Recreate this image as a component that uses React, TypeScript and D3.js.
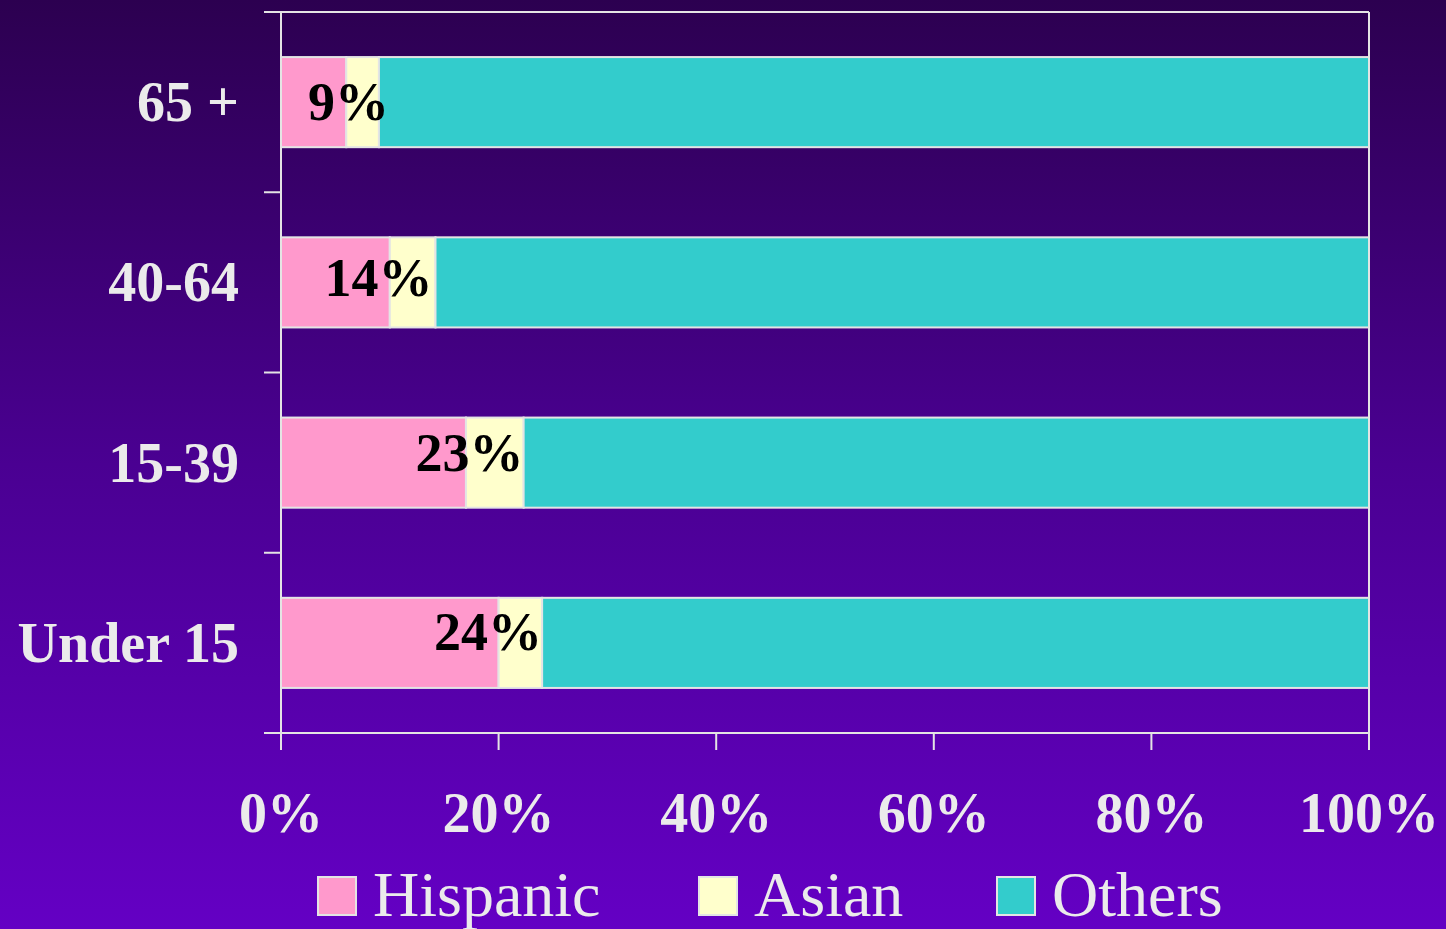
import React from "react";
import * as d3 from "d3";

const categories = ["65 +", "40-64", "15-39", "Under 15"];
const hispanic = [6, 10, 17, 20];
const asian = [3, 4.2, 5.3, 4];
const others = hispanic.map((h, i) => 100 - h - asian[i]);
const totalLabels = ["9%", "14%", "23%", "24%"];
const xTicks = [0, 20, 40, 60, 80, 100];
const seriesNames = ["Hispanic", "Asian", "Others"];
const seriesColors = ["#ff99cc", "#ffffcc", "#33cccc"];

const W = 1446;
const H = 929;
const left = 281;
const right = 1369;
const top = 12;
const bottom = 733;
const lineColor = "#e4e4e4";
// layout nudges for the total labels (pixels)
const labelNudgeX = [10, -3, 0, 0];
const labelNudgeY = [18, 14, 8, 7];

export default function App() {
  const x = d3.scaleLinear().domain([0, 100]).range([left, right]);
  const y = d3
    .scaleBand<string>()
    .domain(categories)
    .range([top, bottom])
    .paddingInner(0.5)
    .paddingOuter(0.25);
  const step = y.step();
  const rows = categories.map((c, i) => ({
    cat: c,
    vals: [hispanic[i], asian[i], others[i]],
  }));
  const stack = rows.map((r) => {
    let acc = 0;
    return r.vals.map((v) => {
      const s = acc;
      acc += v;
      return [s, acc];
    });
  });
  const boundaries = d3.range(categories.length + 1).map((i) => top + i * step);
  const legendX = [318, 699, 997];

  return (
    <svg
      width={W}
      height={H}
      style={{ position: "absolute", left: 0, top: 0, display: "block" }}
    >
      <defs>
        <linearGradient id="bg" x1="0" y1="0" x2="0" y2="1">
          <stop offset="0%" stopColor="#2c0050" />
          <stop offset="50%" stopColor="#4a0092" />
          <stop offset="100%" stopColor="#6400c4" />
        </linearGradient>
      </defs>
      <rect x={0} y={0} width={W} height={H} fill="url(#bg)" />

      {/* plot border */}
      <line x1={left} x2={right} y1={top} y2={top} stroke={lineColor} strokeWidth={2} />
      <line x1={right} x2={right} y1={top} y2={bottom} stroke={lineColor} strokeWidth={2} />

      {/* bars */}
      {rows.map((r, i) => (
        <g key={r.cat}>
          {stack[i].map(([s, e], j) => (
            <rect
              key={j}
              x={x(s)}
              y={y(r.cat)!}
              width={x(e) - x(s)}
              height={y.bandwidth()}
              fill={seriesColors[j]}
              stroke={lineColor}
              strokeWidth={2}
            />
          ))}
          <text
            x={x(stack[i][1][1]) + labelNudgeX[i]}
            y={y(r.cat)! + y.bandwidth() / 2 + labelNudgeY[i]}
            textAnchor="end"
            fontFamily="'Liberation Serif', 'Times New Roman', serif"
            fontWeight="bold"
            fontSize={54}
            fill="#000"
          >
            {totalLabels[i]}
          </text>
        </g>
      ))}

      {/* y axis */}
      <line x1={left} x2={left} y1={top} y2={bottom + 17} stroke={lineColor} strokeWidth={2} />
      {boundaries.map((b, i) => (
        <line key={i} x1={left - 17} x2={left} y1={b} y2={b} stroke={lineColor} strokeWidth={2} />
      ))}
      {categories.map((c) => (
        <text
          key={c}
          x={239}
          y={y(c)! + y.bandwidth() / 2 + 19}
          textAnchor="end"
          fontFamily="'Liberation Serif', 'Times New Roman', serif"
          fontWeight="bold"
          fontSize={56}
          fill="#ebebeb"
        >
          {c}
        </text>
      ))}

      {/* x axis */}
      <line x1={left} x2={right} y1={bottom} y2={bottom} stroke={lineColor} strokeWidth={2} />
      {xTicks.map((t) => (
        <g key={t}>
          <line x1={x(t)} x2={x(t)} y1={bottom} y2={bottom + 17} stroke={lineColor} strokeWidth={2} />
          <text
            x={x(t)}
            y={832}
            textAnchor="middle"
            fontFamily="'Liberation Serif', 'Times New Roman', serif"
            fontWeight="bold"
            fontSize={56}
            fill="#ebebeb"
          >
            {t}%
          </text>
        </g>
      ))}

      {/* legend */}
      {seriesNames.map((n, i) => (
        <g key={n}>
          <rect
            x={legendX[i]}
            y={877}
            width={38}
            height={38}
            fill={seriesColors[i]}
            stroke={lineColor}
            strokeWidth={2}
          />
          <text
            x={legendX[i] + 55}
            y={916}
            fontFamily="'Liberation Serif', 'Times New Roman', serif"
            fontSize={64}
            fill="#ebebeb"
          >
            {n}
          </text>
        </g>
      ))}
    </svg>
  );
}
